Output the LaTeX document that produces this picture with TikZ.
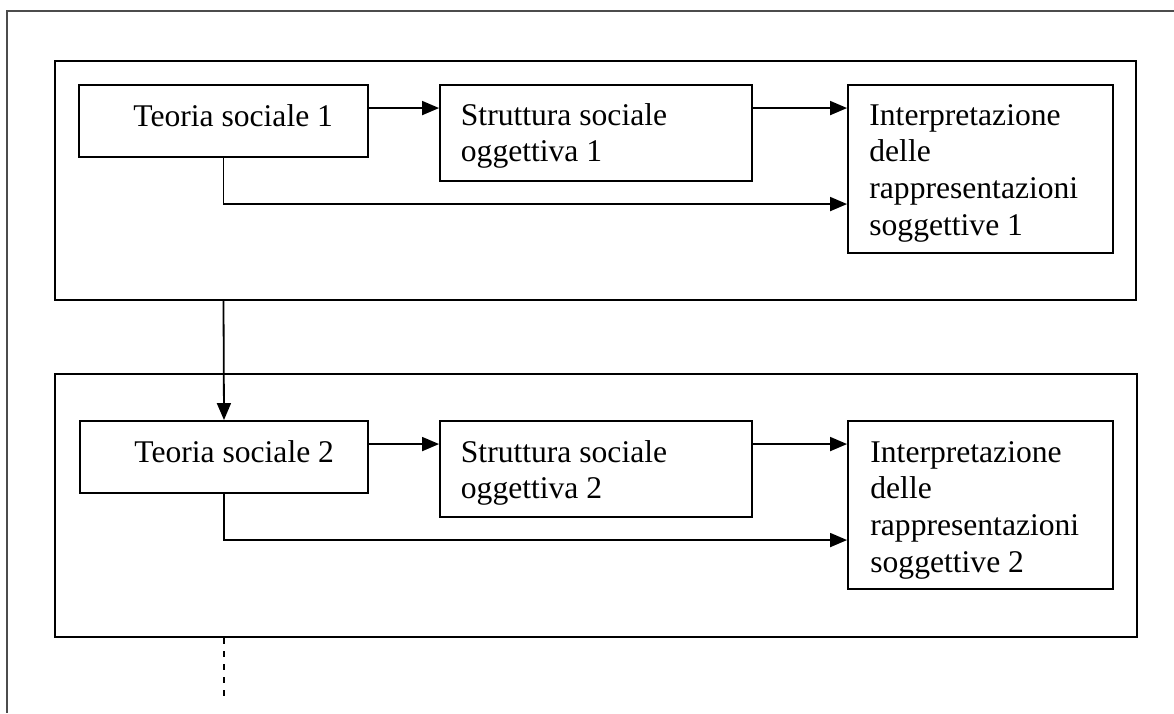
\documentclass[tikz,border=0pt]{standalone}
\usepackage{fontspec}
\setmainfont{Liberation Serif}
\usetikzlibrary{arrows.meta,fit}

% left-aligned block whose baseline is that of its first line
\newcommand{\mlines}[1]{\begin{tabular}[t]{@{}l@{}}#1\end{tabular}}

\tikzset{
  frame/.style={draw=black!70, line width=1pt},
  group/.style={draw, line width=1pt, inner sep=0pt},
  box/.style={draw, line width=0.95pt, inner sep=0pt},
  txt/.style={inner sep=0pt, anchor=base west,
    font=\fontsize{15.8pt}{18.35pt}\selectfont},
  arr/.style={line width=0.9pt, -{Triangle[length=8.5pt,width=7pt]}},
  cont/.style={line width=1.1pt, dash pattern=on 3pt off 3.5pt}
}

\begin{document}
\begin{tikzpicture}[x=0.5pt, y=-0.5pt]
\useasboundingbox (0,0) rectangle (1174,713);

% page frame (top and left edges)
\draw[frame] (1174,11) -- (7,11) -- (7,713);

% ---- first level ----
\node[group, fit={(55,61) (1136,300)}] (g1) {};
\node[box, fit={(79,85) (368,157)}] (t1) {};
\node[box, fit={(440,85) (752,181)}] (s1) {};
\node[box, fit={(848,85) (1113,253)}] (i1) {};
\node[txt] (t1l) at (133,126) {Teoria sociale 1};
\node[txt] (s1l) at (460.5,125) {\mlines{Struttura sociale\\oggettiva 1}};
\node[txt] (i1l) at (869,125) {\mlines{Interpretazione\\delle\\rappresentazioni\\soggettive 1}};

\draw[arr] ([yshift=-12pt]t1.north east) -- ([yshift=-12pt]s1.north west);
\draw[arr] ([yshift=-12pt]s1.north east) -- ([yshift=-12pt]i1.north west);
\draw[arr] (t1.south) |- ([yshift=-60pt]i1.north west);

% ---- second level ----
\node[group, fit={(55,374) (1137,637)}] (g2) {};
\node[box, fit={(80,421) (368,493)}] (t2) {};
\node[box, fit={(440,421) (752,517)}] (s2) {};
\node[box, fit={(848,421) (1113,589)}] (i2) {};
\node[txt] (t2l) at (134,462) {Teoria sociale 2};
\node[txt] (s2l) at (460.5,462) {\mlines{Struttura sociale\\oggettiva 2}};
\node[txt] (i2l) at (870,462) {\mlines{Interpretazione\\delle\\rappresentazioni\\soggettive 2}};

\draw[arr] ([yshift=-12pt]t2.north east) -- ([yshift=-12pt]s2.north west);
\draw[arr] ([yshift=-12pt]s2.north east) -- ([yshift=-12pt]i2.north west);
\draw[arr] (t2.south) |- ([yshift=-60pt]i2.north west);

% ---- links between levels ----
\draw[arr] (t1.south |- g1.south) -- (t2.north);
\coordinate (more) at (224,700);
\draw[cont] (t2.south |- g2.south) -- (more);
\end{tikzpicture}
\end{document}
